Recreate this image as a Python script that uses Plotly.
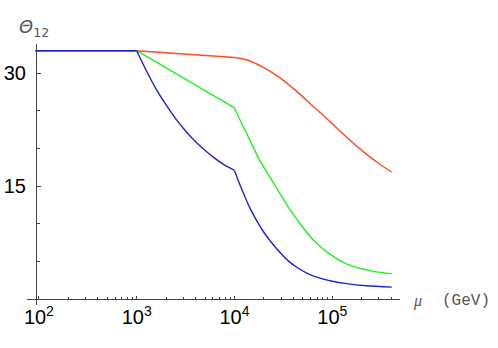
import plotly.graph_objects as go

# ---- data ----
mu_red = [92, 1000, 10000, 13300, 19700, 29200, 43300, 64000, 94600, 140000, 207000, 308000, 405000]
theta_red = [33.0, 33.0, 32.1, 31.8, 30.8, 29.4, 27.6, 25.6, 23.6, 21.5, 19.6, 17.9, 16.9]

mu_green = [92, 1000, 10000, 12000, 14400, 18200, 24900, 36900, 54700, 70800, 94600, 140000, 243000, 405000]
theta_green = [33.0, 33.0, 25.4, 23.2, 21.1, 18.4, 15.5, 11.9, 8.9, 7.3, 6.0, 4.7, 3.8, 3.38]

mu_blue = [92, 1000, 1260, 1580, 2000, 2510, 3160, 3980, 5010, 6310, 7940, 10000,
           11200, 12600, 14400, 16900, 19700, 24000, 29200, 35500, 43300, 56200, 69200,
           100000, 140000, 224000, 405000]
theta_blue = [33.0, 33.0, 30.3, 27.9, 25.8, 23.95, 22.35, 20.95, 19.75, 18.7, 17.8, 17.1,
              15.4, 13.8, 12.1, 10.4, 9.0, 7.5, 6.2, 5.1, 4.25, 3.4, 2.95,
              2.4, 2.08, 1.8, 1.62]

kinks = [1000, 10000]          # thresholds where the curves have corners

y_major = [15, 30]
y_minor = [5, 10, 20, 25]
x_major = [100, 1000, 10000, 100000]
x_major_text = ["10<sup>2</sup>", "10<sup>3</sup>", "10<sup>4</sup>", "10<sup>5</sup>"]
x_minor = [m * d for d in (100, 1000, 10000, 100000) for m in range(2, 10) if m * d <= 500000]

W, H = 498, 348


def px(x):
    return x / W


def py(y):
    return (H - y) / H


def segments(mu, th):
    """split a curve at the threshold corners so each smooth piece is its own trace"""
    cut = [i for i, m in enumerate(mu) if m in kinks]
    bounds = [0] + cut + [len(mu) - 1]
    out = []
    for a, b in zip(bounds[:-1], bounds[1:]):
        if b > a:
            out.append((mu[a:b + 1], th[a:b + 1]))
    return out


fig = go.Figure()
for mu, th, col in [(mu_red, theta_red, "#ff4a22"),
                    (mu_green, theta_green, "#22ee22"),
                    (mu_blue, theta_blue, "#2222cc")]:
    for sm, st in segments(mu, th):
        fig.add_trace(go.Scatter(x=sm, y=st, mode="lines",
                                 line=dict(color=col, width=1.4, shape="spline", smoothing=0.8),
                                 showlegend=False, hoverinfo="skip"))

axis_col = "#444444"
fig.update_layout(
    width=W, height=H,
    margin=dict(l=0, r=0, t=0, b=0, autoexpand=False),
    paper_bgcolor="white", plot_bgcolor="white",
    font=dict(family="Liberation Sans, Arial, sans-serif", color="black"),
    hovermode=False,
    xaxis=dict(
        type="log",
        domain=[px(27), px(400)],
        range=[1.8783, 5.6922],
        anchor="free", position=py(299.3),
        automargin=False,
        showgrid=False, zeroline=False,
        showline=True, linecolor=axis_col, linewidth=1,
        tickmode="array", tickvals=x_major, ticktext=x_major_text,
        ticks="inside", ticklen=3, tickcolor=axis_col, tickwidth=1,
        tickfont=dict(size=20, color="black"),
        minor=dict(tickmode="array", tickvals=x_minor, ticks="inside",
                   ticklen=2, tickcolor=axis_col, tickwidth=1, showgrid=False),
    ),
    yaxis=dict(
        domain=[py(305), py(44)],
        range=[-0.757, 33.89],
        anchor="free", position=px(36),
        automargin=False,
        showgrid=False, zeroline=False,
        showline=True, linecolor=axis_col, linewidth=1,
        tickmode="array", tickvals=y_major, ticktext=[str(v) for v in y_major],
        ticks="inside", ticklen=4, tickcolor=axis_col, tickwidth=1,
        tickfont=dict(size=20, color="black"),
        ticklabelstandoff=6,
        minor=dict(tickmode="array", tickvals=y_minor, ticks="inside",
                   ticklen=3, tickcolor=axis_col, tickwidth=1, showgrid=False),
    ),
)

fig.add_annotation(xref="paper", yref="paper", x=px(17), y=py(14),
                   xanchor="left", yanchor="top", showarrow=False,
                   text="<i>Θ</i><sub>12</sub>",
                   font=dict(size=18, color="#555555", family="DejaVu Sans, sans-serif"))
fig.add_annotation(xref="paper", yref="paper", x=px(411), y=py(301),
                   xanchor="left", yanchor="middle", showarrow=False,
                   text="<i>μ</i>",
                   font=dict(size=16, color="#555555", family="Liberation Serif, serif"))
fig.add_annotation(xref="paper", yref="paper", x=px(440), y=py(301),
                   xanchor="left", yanchor="middle", showarrow=False,
                   text="(GeV)",
                   font=dict(size=16, color="#555555", family="Liberation Mono, monospace"))

fig.write_html("out.html",
               config={"displayModeBar": False, "staticPlot": True},
               post_script="document.body.style.margin='0';document.body.style.overflow='hidden';")
